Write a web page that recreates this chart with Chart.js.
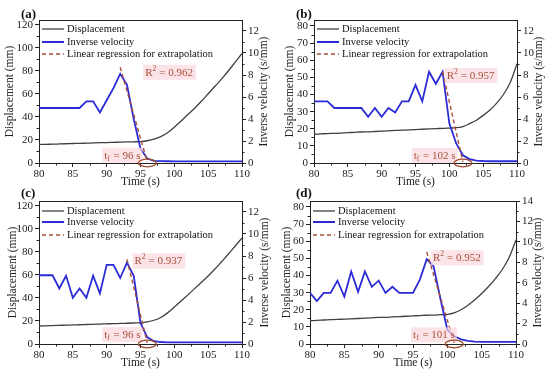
<!DOCTYPE html>
<html>
<head>
<meta charset="utf-8">
<script src="https://cdn.jsdelivr.net/npm/chart.js@4.4.0/dist/chart.umd.min.js"></script>
<style>
  html, body { margin: 0; padding: 0; background: #fff; }
  .p { position: absolute; width: 275px; height: 188px; }
</style>
</head>
<body>
<div class="p" style="left:0;top:0"><canvas id="ca" width="275" height="188"></canvas></div>
<div class="p" style="left:275px;top:0"><canvas id="cb" width="275" height="188"></canvas></div>
<div class="p" style="left:0;top:188px"><canvas id="cc" width="275" height="188"></canvas></div>
<div class="p" style="left:275px;top:188px"><canvas id="cd" width="275" height="188"></canvas></div>
<script>
// time axis (s)
const time = [80, 81, 82, 83, 84, 85, 86, 87, 88, 89, 90, 91, 92, 93, 94, 95, 96, 97, 98, 99, 100, 101, 102, 103, 104, 105, 106, 107, 108, 109, 110]
const timeTicks = [80, 85, 90, 95, 100, 105, 110]

// (a)
const dispA = [16.0, 16.2, 16.3, 16.5, 16.7, 16.9, 17.0, 17.2, 17.4, 17.6, 17.7, 17.9, 18.1, 18.3, 18.4, 18.6, 19.3, 20.6, 22.8, 26.2, 31.0, 36.5, 42.0, 47.5, 53.5, 60.0, 66.5, 73.0, 80.0, 87.5, 95.0]
const invA = [5.0, 5.0, 5.0, 5.0, 5.0, 5.0, 5.0, 5.6, 5.6, 4.6, 5.7, 6.8, 8.1, 7.1, 4.0, 1.3, 0.4, 0.2, 0.17, 0.16, 0.15, 0.15, 0.15, 0.15, 0.15, 0.15, 0.15, 0.15, 0.15, 0.15, 0.15]
const regTimeA = [92, 96]
const regA = [8.7, 0.1]

// (b)
const dispB = [16.8, 17.0, 17.2, 17.3, 17.5, 17.7, 17.9, 18.1, 18.2, 18.4, 18.6, 18.8, 19.0, 19.2, 19.3, 19.5, 19.7, 19.9, 20.1, 20.2, 20.4, 20.6, 21.3, 23.0, 25.0, 27.8, 31.0, 35.0, 40.0, 47.0, 58.0]
const invB = [5.6, 5.6, 5.6, 5.0, 5.0, 5.0, 5.0, 5.0, 4.2, 5.0, 4.2, 5.0, 4.6, 5.6, 5.6, 7.1, 5.6, 8.3, 7.2, 8.3, 3.6, 1.8, 0.7, 0.35, 0.22, 0.18, 0.16, 0.16, 0.16, 0.16, 0.16]
const regTimeB = [99, 102]
const regB = [8.3, 0.1]

// (c)
const dispC = [15.6, 15.8, 16.0, 16.2, 16.4, 16.5, 16.7, 16.9, 17.1, 17.3, 17.5, 17.7, 17.8, 18.0, 18.2, 18.4, 19.2, 20.6, 23.0, 27.0, 32.0, 37.3, 42.6, 48.0, 53.5, 59.0, 65.0, 71.5, 78.0, 85.0, 92.0]
const invC = [6.25, 6.25, 6.25, 5.05, 6.2, 4.2, 5.05, 4.2, 6.2, 4.6, 7.2, 7.2, 6.0, 7.4, 6.2, 1.9, 0.6, 0.25, 0.18, 0.15, 0.15, 0.15, 0.15, 0.15, 0.15, 0.15, 0.15, 0.15, 0.15, 0.15, 0.15]
const regTimeC = [93, 96]
const regC = [7.7, 0.1]

// (d)
const dispD = [13.6, 13.8, 14.0, 14.2, 14.4, 14.5, 14.7, 14.9, 15.1, 15.3, 15.5, 15.6, 15.8, 16.0, 16.2, 16.4, 16.6, 16.8, 16.9, 17.1, 17.3, 18.2, 20.0, 22.6, 25.8, 29.5, 33.6, 38.2, 43.5, 50.5, 60.8]
const invD = [5.0, 4.2, 5.0, 5.0, 6.2, 4.65, 7.1, 5.1, 7.1, 5.6, 6.2, 5.0, 5.6, 5.0, 5.0, 5.0, 6.3, 8.3, 7.6, 4.4, 1.4, 0.75, 0.45, 0.3, 0.23, 0.2, 0.2, 0.2, 0.2, 0.2, 0.2]
const regTimeD = [97, 101]
const regD = [9.0, 0.1]

// axis ticks
const dispTicks120 = [0, 20, 40, 60, 80, 100, 120]
const dispTicks80 = [0, 10, 20, 30, 40, 50, 60, 70, 80]
const invTicks12 = [0, 2, 4, 6, 8, 10, 12]
const invTicks14 = [0, 2, 4, 6, 8, 10, 12, 14]

const serif = '"Liberation Serif", "Times New Roman", serif'
const ink = '#222'
const red = '#a9503a'

function pts(xs, ys) {
  return xs.map(function (v, i) { return { x: v, y: ys[i] } })
}

function setTicks(arr) {
  return function (s) { s.ticks = arr.map(function (v) { return { value: v } }) }
}

// minor ticks, frame, right title, legend, labels
const marks = {
  id: 'marks',
  afterDatasetsDraw(chart, args, o) {
    const ctx = chart.ctx
    const a = chart.chartArea
    const x = chart.scales.x, y = chart.scales.y, y1 = chart.scales.y1
    ctx.save()
    ctx.strokeStyle = ink
    ctx.lineWidth = 1
    // top frame line
    ctx.beginPath()
    ctx.moveTo(a.left, Math.round(a.top) + 0.5)
    ctx.lineTo(a.right, Math.round(a.top) + 0.5)
    ctx.stroke()
    // minor ticks
    ctx.beginPath()
    for (let i = 0; i < x.ticks.length - 1; i++) {
      const px = Math.round(x.getPixelForValue((x.ticks[i].value + x.ticks[i + 1].value) / 2)) + 0.5
      ctx.moveTo(px, a.bottom); ctx.lineTo(px, a.bottom + 2.5)
    }
    for (let i = 0; i < y.ticks.length - 1; i++) {
      const py = Math.round(y.getPixelForValue((y.ticks[i].value + y.ticks[i + 1].value) / 2)) + 0.5
      ctx.moveTo(a.left, py); ctx.lineTo(a.left - 2.5, py)
    }
    for (let i = 0; i < y1.ticks.length - 1; i++) {
      const py = Math.round(y1.getPixelForValue((y1.ticks[i].value + y1.ticks[i + 1].value) / 2)) + 0.5
      ctx.moveTo(a.right, py); ctx.lineTo(a.right + 2.5, py)
    }
    ctx.stroke()

    // right axis title, read bottom to top
    ctx.save()
    ctx.translate(o.rightTitleX, (a.top + a.bottom) / 2)
    ctx.rotate(-Math.PI / 2)
    ctx.font = '11.5px ' + serif
    ctx.fillStyle = ink
    ctx.textAlign = 'center'
    ctx.textBaseline = 'middle'
    ctx.fillText('Inverse velocity (s/mm)', 0, 0)
    ctx.restore()

    // legend
    const rows = [
      { text: 'Displacement', color: '#404040', w: 1.3, dash: [] },
      { text: 'Inverse velocity', color: '#2b2bd6', w: 2, dash: [] },
      { text: 'Linear regression for extrapolation', color: red, w: 1.4, dash: [4, 3] }
    ]
    ctx.font = '10.5px ' + serif
    ctx.textBaseline = 'middle'
    ctx.textAlign = 'left'
    rows.forEach(function (r, i) {
      const ly = a.top + o.legendY[i]
      ctx.strokeStyle = r.color
      ctx.lineWidth = r.w
      ctx.setLineDash(r.dash)
      ctx.beginPath()
      ctx.moveTo(a.left + 3, ly); ctx.lineTo(a.left + 25, ly)
      ctx.stroke()
      ctx.setLineDash([])
      ctx.fillStyle = '#111'
      ctx.fillText(r.text, a.left + 28, ly)
    })

    // R^2 label
    let tx = x.getPixelForValue(o.r2At[0])
    let ty = y1.getPixelForValue(o.r2At[1])
    ctx.font = '11px ' + serif
    const wR = ctx.measureText('R').width
    const rest = ' = ' + o.r2
    const wRest = ctx.measureText(rest).width
    ctx.fillStyle = 'rgba(250,215,222,0.7)'
    ctx.fillRect(tx - 2, ty - 8, wR + 5 + wRest + 4, 15)
    ctx.fillStyle = red
    ctx.fillText('R', tx, ty)
    ctx.font = '7.5px ' + serif
    ctx.fillText('2', tx + wR, ty - 4)
    ctx.font = '11px ' + serif
    ctx.fillText(rest, tx + wR + 4, ty)

    // failure time label (right aligned)
    tx = x.getPixelForValue(o.tfAt[0])
    ty = y1.getPixelForValue(o.tfAt[1])
    const tail = ' = ' + o.tf + ' s'
    const wt = ctx.measureText('t').width
    const wTail = ctx.measureText(tail).width
    const total = wt + 3.5 + wTail
    const sx = tx - total
    ctx.fillStyle = 'rgba(250,215,222,0.7)'
    ctx.fillRect(sx - 2, ty - 8, total + 4, 15)
    ctx.fillStyle = red
    ctx.fillText('t', sx, ty)
    ctx.font = '7.5px ' + serif
    ctx.fillText('f', sx + wt, ty + 3)
    ctx.font = '11px ' + serif
    ctx.fillText(tail, sx + wt + 3.5, ty)

    // ellipse round the failure point
    ctx.strokeStyle = '#a04a2c'
    ctx.lineWidth = 1.3
    ctx.beginPath()
    ctx.ellipse(x.getPixelForValue(o.tf), y1.getPixelForValue(0), 9, 3.8, 0, 0, Math.PI * 2)
    ctx.stroke()

    // panel letter
    ctx.fillStyle = '#111'
    ctx.font = 'bold 13px ' + serif
    ctx.fillText(o.letter, 21, o.letterY)
    ctx.restore()
  }
}

function makeChart(id, p) {
  const tickFont = { family: serif, size: 11 }
  const titleFont = { family: serif, size: 11.5 }
  return new Chart(document.getElementById(id), {
    type: 'line',
    data: {
      datasets: [{
        label: 'Linear regression for extrapolation',
        data: pts(p.regTime, p.reg),
        yAxisID: 'y1',
        borderColor: red,
        borderWidth: 1.4,
        borderDash: [4, 3],
        pointRadius: 0,
        order: 0
      }, {
        label: 'Inverse velocity',
        data: pts(time, p.inv),
        yAxisID: 'y1',
        borderColor: '#2b2bd6',
        borderWidth: 1.8,
        pointRadius: 0,
        order: 1
      }, {
        label: 'Displacement',
        data: pts(time, p.disp),
        yAxisID: 'y',
        borderColor: '#404040',
        borderWidth: 1.3,
        pointRadius: 0,
        cubicInterpolationMode: 'monotone',
        order: 2
      }]
    },
    options: {
      responsive: false,
      animation: false,
      layout: { padding: { top: p.top, left: 0, right: 0, bottom: 0 } },
      plugins: {
        legend: { display: false },
        tooltip: { enabled: false },
        marks: p.marks
      },
      scales: {
        x: {
          type: 'linear', position: 'bottom', min: 80, max: 110,
          afterBuildTicks: setTicks(timeTicks),
          afterFit: function (s) { s.height = 188 - p.bottom },
          grid: { drawOnChartArea: false, tickLength: 4, color: ink },
          border: { color: ink, width: 1 },
          ticks: { font: tickFont, color: ink, padding: 1, maxRotation: 0 },
          title: { display: true, text: 'Time (s)', font: titleFont, color: ink, padding: { top: 0, bottom: p.xTitlePad } }
        },
        y: {
          type: 'linear', position: 'left', min: 0, max: p.leftMax,
          afterBuildTicks: setTicks(p.leftTicks),
          afterFit: function (s) { s.width = p.left },
          grid: { drawOnChartArea: false, tickLength: 4, color: ink },
          border: { color: ink, width: 1 },
          ticks: { font: tickFont, color: ink, padding: 2 },
          title: { display: true, text: 'Displacement (mm)', font: titleFont, color: ink, padding: { top: p.yTitlePad, bottom: 0 } }
        },
        y1: {
          type: 'linear', position: 'right', min: 0, max: p.rightMax,
          afterBuildTicks: setTicks(p.rightTicks),
          afterFit: function (s) { s.width = 275 - p.right },
          grid: { drawOnChartArea: false, tickLength: 4, color: ink },
          border: { color: ink, width: 1 },
          ticks: { font: tickFont, color: ink, padding: 2 },
          title: { display: false }
        }
      }
    },
    plugins: [marks]
  })
}

makeChart('ca', {
  disp: dispA, inv: invA, regTime: regTimeA, reg: regA,
  leftMax: 124, leftTicks: dispTicks120, rightMax: 13, rightTicks: invTicks12,
  left: 39, right: 242, top: 20, bottom: 163,
  xTitlePad: -1, yTitlePad: 3,
  marks: { rightTitleX: 264, legendY: [9, 22, 34], r2: '0.962', r2At: [95.7, 8.2], tf: 96, tfAt: [95.0, 0.66], letter: '(a)', letterY: 15 }
})
makeChart('cb', {
  disp: dispB, inv: invB, regTime: regTimeB, reg: regB,
  leftMax: 83.5, leftTicks: dispTicks80, rightMax: 13, rightTicks: invTicks12,
  left: 39, right: 242, top: 20, bottom: 163,
  xTitlePad: -1, yTitlePad: 8,
  marks: { rightTitleX: 264, legendY: [9, 22, 34], r2: '0.957', r2At: [99.6, 7.9], tf: 102, tfAt: [100.9, 0.64], letter: '(b)', letterY: 15 }
})
makeChart('cc', {
  disp: dispC, inv: invC, regTime: regTimeC, reg: regC,
  leftMax: 124, leftTicks: dispTicks120, rightMax: 13, rightTicks: invTicks12,
  left: 39, right: 242, top: 13, bottom: 156,
  xTitlePad: 6, yTitlePad: 6,
  marks: { rightTitleX: 265, legendY: [10, 21, 34], r2: '0.937', r2At: [94.1, 7.5], tf: 96, tfAt: [95.0, 0.8], letter: '(c)', letterY: 6 }
})
makeChart('cd', {
  disp: dispD, inv: invD, regTime: regTimeD, reg: regD,
  leftMax: 83.5, leftTicks: dispTicks80, rightMax: 14, rightTicks: invTicks14,
  left: 35, right: 241, top: 13, bottom: 156,
  xTitlePad: 6, yTitlePad: 5,
  marks: { rightTitleX: 263, legendY: [10, 21, 34], r2: '0.952', r2At: [97.9, 8.4], tf: 101, tfAt: [101.1, 0.85], letter: '(d)', letterY: 6 }
})
</script>
</body>
</html>
